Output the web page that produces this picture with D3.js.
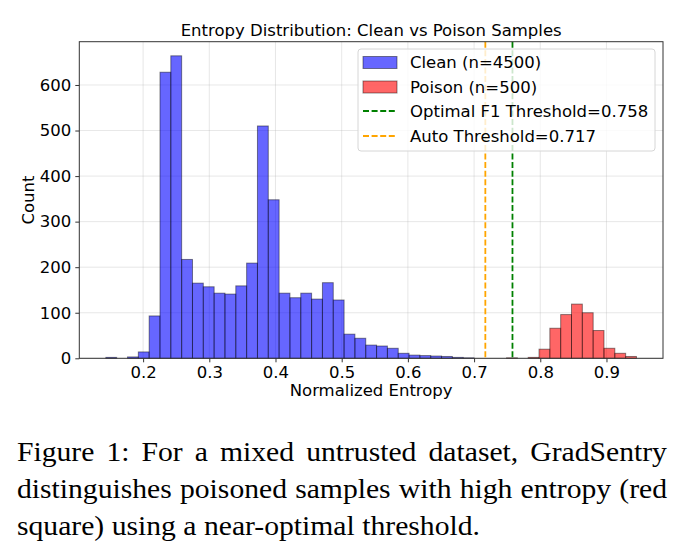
<!DOCTYPE html>
<html lang="en">
<head>
  <meta charset="UTF-8" />
  <title>Entropy Distribution</title>
  <script src="https://d3js.org/d3.v7.min.js"></script>
  <style>
    body { margin: 0; background: white; }
    svg { display: block; }
    .tick text { font-family: 'DejaVu Sans', sans-serif; font-size: 16.5px; fill: black; }
    .label { font-family: 'DejaVu Sans', sans-serif; font-size: 16.5px; fill: black; }
    .caption { font-family: 'Liberation Serif', 'Times New Roman', serif; font-size: 27px; fill: black; }
  </style>
</head>
<body>
<div id="chart"></div>
<script>
  // --- Histogram data (shared bin grid) ---
  const binStart = 0.1437;
  const binWidth = 0.01636;
  const cleanCounts = [2, 0, 3, 14, 93, 628, 664, 217, 165, 157, 143, 141, 159, 209, 510, 348,
                       143, 133, 143, 130, 166, 128, 53, 44, 29, 27, 22, 11, 7, 6, 5, 4, 2, 1];
  const poisonFirstBin = 37;
  const poisonCounts = [1, 0, 2, 20, 66, 96, 119, 100, 61, 22, 11, 4];

  const xTicks = [0.2, 0.3, 0.4, 0.5, 0.6, 0.7, 0.8, 0.9];
  const yTicks = [0, 100, 200, 300, 400, 500, 600];

  const thresholds = [
    { value: 0.758, color: "green" },
    { value: 0.717, color: "orange" }
  ];
  const legendLabels = ["Clean (n=4500)", "Poison (n=500)", "Optimal F1 Threshold=0.758", "Auto Threshold=0.717"];
  const captionLines = [
    "Figure 1: For a mixed untrusted dataset, GradSentry",
    "distinguishes poisoned samples with high entropy (red",
    "square) using a near-optimal threshold."
  ];

  // --- Dimensions ---
  const W = 687, H = 557;
  const plot = { left: 79.3, right: 663, top: 41.7, bottom: 358.3 };

  const svg = d3.select("#chart").append("svg")
    .attr("width", W).attr("height", H);

  const x = d3.scaleLinear().domain([0.1036, 0.9854]).range([plot.left, plot.right]);
  const y = d3.scaleLinear().domain([0, 695]).range([plot.bottom, plot.top]);

  // --- Grid ---
  const grid = svg.append("g");
  grid.selectAll(".gx").data(xTicks).enter().append("line")
    .attr("x1", d => x(d)).attr("x2", d => x(d))
    .attr("y1", plot.top).attr("y2", plot.bottom)
    .attr("stroke", "#b0b0b0").attr("stroke-opacity", 0.3).attr("stroke-width", 1);
  grid.selectAll(".gy").data(yTicks).enter().append("line")
    .attr("x1", plot.left).attr("x2", plot.right)
    .attr("y1", d => y(d)).attr("y2", d => y(d))
    .attr("stroke", "#b0b0b0").attr("stroke-opacity", 0.3).attr("stroke-width", 1);

  // --- Bars ---
  function drawBars(counts, firstBin, color) {
    const bins = counts.map((c, i) => ({ x0: binStart + (firstBin + i) * binWidth, count: c }))
                       .filter(d => d.count > 0);
    svg.append("g").selectAll("rect").data(bins).enter().append("rect")
      .attr("x", d => x(d.x0))
      .attr("width", d => x(d.x0 + binWidth) - x(d.x0))
      .attr("y", d => y(d.count))
      .attr("height", d => y(0) - y(d.count))
      .attr("fill", color).attr("fill-opacity", 0.6)
      .attr("stroke", "black").attr("stroke-opacity", 0.45).attr("stroke-width", 1);
  }
  drawBars(cleanCounts, 0, "blue");
  drawBars(poisonCounts, poisonFirstBin, "red");

  // --- Threshold lines ---
  svg.append("g").selectAll("line").data(thresholds).enter().append("line")
    .attr("x1", d => x(d.value)).attr("x2", d => x(d.value))
    .attr("y1", plot.top).attr("y2", plot.bottom)
    .attr("stroke", d => d.color).attr("stroke-width", 1.8)
    .attr("stroke-dasharray", "6,2.6");

  // --- Axes ---
  const xAxis = svg.append("g").attr("transform", `translate(0,${plot.bottom})`)
    .call(d3.axisBottom(x).tickValues(xTicks).tickFormat(d3.format(".1f")).tickSize(4).tickPadding(4));
  const yAxis = svg.append("g").attr("transform", `translate(${plot.left},0)`)
    .call(d3.axisLeft(y).tickValues(yTicks).tickSize(4).tickPadding(4));
  [xAxis, yAxis].forEach(a => {
    a.select(".domain").remove();
    a.selectAll(".tick line").attr("stroke", "#333");
  });

  // --- Frame ---
  svg.append("rect")
    .attr("x", plot.left).attr("y", plot.top)
    .attr("width", plot.right - plot.left).attr("height", plot.bottom - plot.top)
    .attr("fill", "none").attr("stroke", "#333").attr("stroke-width", 1);

  // --- Titles ---
  svg.append("text").attr("class", "label")
    .attr("x", (plot.left + plot.right) / 2).attr("y", 36)
    .attr("text-anchor", "middle")
    .text("Entropy Distribution: Clean vs Poison Samples");
  svg.append("text").attr("class", "label")
    .attr("x", (plot.left + plot.right) / 2).attr("y", 396)
    .attr("text-anchor", "middle")
    .text("Normalized Entropy");
  svg.append("text").attr("class", "label")
    .attr("transform", `translate(34,${(plot.top + plot.bottom) / 2}) rotate(-90)`)
    .attr("text-anchor", "middle")
    .text("Count");

  // --- Legend ---
  const legend = svg.append("g").attr("transform", "translate(358,49)");
  legend.append("rect")
    .attr("width", 297).attr("height", 102).attr("rx", 3)
    .attr("fill", "white").attr("fill-opacity", 0.8)
    .attr("stroke", "#d6d6d6");
  const rowY = [13.5, 38, 62, 87];
  legendLabels.forEach((label, i) => {
    const row = legend.append("g").attr("transform", `translate(5,${rowY[i]})`);
    if (i < 2) {
      row.append("rect")
        .attr("x", 0).attr("y", -6).attr("width", 34).attr("height", 12)
        .attr("fill", i === 0 ? "blue" : "red").attr("fill-opacity", 0.6)
        .attr("stroke", "black").attr("stroke-opacity", 0.45);
    } else {
      row.append("line")
        .attr("x1", 0).attr("x2", 34).attr("y1", 0).attr("y2", 0)
        .attr("stroke", thresholds[i - 2].color).attr("stroke-width", 1.8)
        .attr("stroke-dasharray", "6,2.6");
    }
    row.append("text").attr("class", "label")
      .attr("x", 47).attr("y", 0).attr("dy", "0.35em")
      .text(label);
  });

  // --- Caption (paper text, justified by word gaps) ---
  const caption = svg.append("g");
  const baselines = [461, 498, 535];
  const lastLineWidth = 463;   // last line is not justified; sets horizontal stretch
  const spans = captionLines.map((line, i) => {
    const t = caption.append("text").attr("class", "caption").attr("y", baselines[i]);
    return line.split(" ").map(w => t.append("tspan").text(w));
  });
  const widths = spans.map(row => row.map(s => s.node().getComputedTextLength()));
  const spaceW = 27 * 0.25;
  const lastRow = widths[widths.length - 1];
  const sx = lastLineWidth / (d3.sum(lastRow) + spaceW * (lastRow.length - 1));
  caption.attr("transform", `translate(17,0) scale(${sx},1)`);
  const lineWidth = 650 / sx;
  spans.forEach((row, i) => {
    const gap = i < spans.length - 1
      ? (lineWidth - d3.sum(widths[i])) / (row.length - 1)
      : spaceW;
    let cx = 0;
    row.forEach((s, k) => {
      s.attr("x", cx);
      cx += widths[i][k] + gap;
    });
  });
</script>
</body>
</html>
